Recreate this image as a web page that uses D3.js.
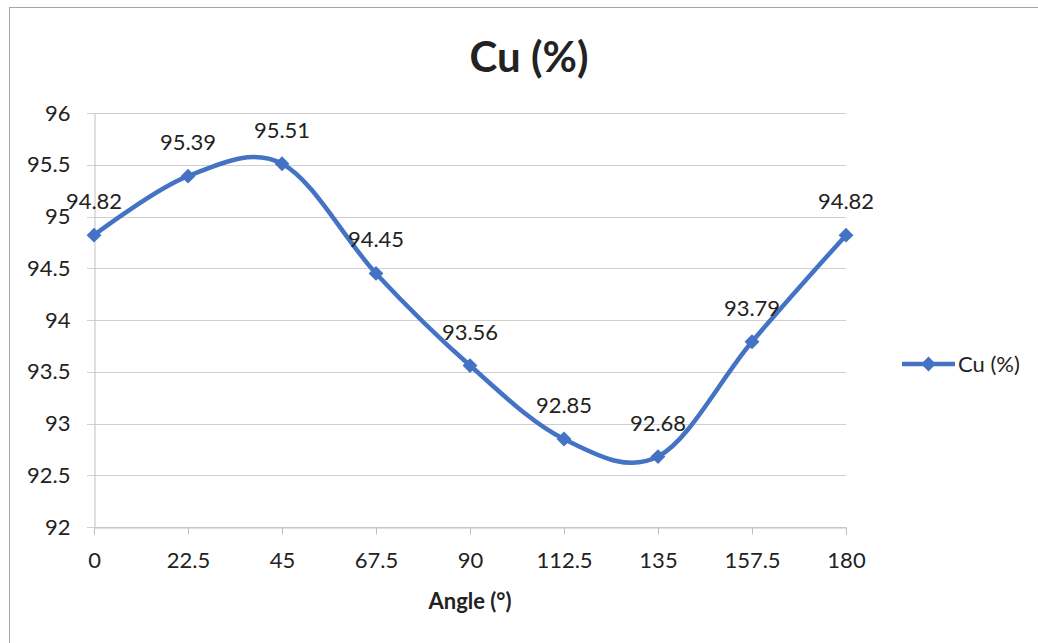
<!DOCTYPE html>
<html>
<head>
<meta charset="utf-8">
<script src="https://cdn.jsdelivr.net/npm/d3@7"></script>
<style>
  html, body { margin: 0; padding: 0; background: #fff; }
  svg { display: block; }
  text { font-family: Lato, "Open Sans", sans-serif; fill: #222; }
</style>
</head>
<body>
<svg id="chart" width="1038" height="643"></svg>
<script>
// Copper content measured at each angle
const angles = [0, 22.5, 45, 67.5, 90, 112.5, 135, 157.5, 180];
const cuValues = [94.82, 95.39, 95.51, 94.45, 93.56, 92.85, 92.68, 93.79, 94.82];
const yTicks = [92, 92.5, 93, 93.5, 94, 94.5, 95, 95.5, 96];
const seriesName = "Cu (%)";

const svg = d3.select("#chart");
const W = 1038, H = 643;
const plot = { left: 94, right: 846, top: 113, bottom: 527 };
const blue = "#4472C4";
const fontSize = "22px";

// outer frame of the chart area
svg.append("rect")
  .attr("x", 9.5).attr("y", 7.5)
  .attr("width", W + 10).attr("height", H + 10)
  .attr("fill", "none").attr("stroke", "#a6a6a6").attr("stroke-width", 1);

const x = d3.scaleLinear().domain([0, 180]).range([plot.left, plot.right]);
const y = d3.scaleLinear().domain([92, 96]).range([plot.bottom, plot.top]);

// horizontal gridlines
svg.append("g")
  .selectAll("line")
  .data(yTicks)
  .join("line")
  .attr("x1", plot.left - 7).attr("x2", plot.right)
  .attr("y1", d => Math.round(y(d)) + 0.5).attr("y2", d => Math.round(y(d)) + 0.5)
  .attr("stroke", "#d0d0d0").attr("stroke-width", 1);

// y axis
const yAxis = svg.append("g")
  .attr("transform", `translate(${plot.left + 0.5},0)`)
  .call(d3.axisLeft(y).tickValues(yTicks).tickSize(0).tickPadding(24)
    .tickFormat(d => String(d)));
yAxis.select(".domain").attr("stroke", "#bfbfbf");
yAxis.selectAll("text")
  .style("font-family", "Lato, 'Open Sans', sans-serif")
  .style("font-size", fontSize).attr("fill", "#222");

// x axis
const xAxis = svg.append("g")
  .attr("transform", `translate(0,${Math.round(plot.bottom) + 0.5})`)
  .call(d3.axisBottom(x).tickValues(angles).tickSize(7).tickPadding(18)
    .tickFormat(d => String(d)));
xAxis.select(".domain").attr("stroke", "#bfbfbf");
xAxis.selectAll(".tick line").attr("stroke", "#bfbfbf");
xAxis.selectAll("text")
  .style("font-family", "Lato, 'Open Sans', sans-serif")
  .style("font-size", fontSize).attr("fill", "#222");

// title and axis title
svg.append("text")
  .attr("x", 529).attr("y", 72)
  .attr("text-anchor", "middle")
  .style("font-size", "42px").style("font-weight", "bold")
  .text("Cu (%)");

svg.append("text")
  .attr("x", (plot.left + plot.right) / 2).attr("y", 609)
  .attr("text-anchor", "middle")
  .style("font-size", "22px").style("font-weight", "bold")
  .text("Angle (°)");

const points = angles.map((a, i) => ({ a, v: cuValues[i] }));

// smoothed series line
const line = d3.line()
  .x(d => x(d.a)).y(d => y(d.v))
  .curve(d3.curveCardinal.tension(0));

svg.append("path")
  .datum(points)
  .attr("d", line)
  .attr("fill", "none")
  .attr("stroke", blue)
  .attr("stroke-width", 4.5)
  .attr("stroke-linejoin", "round");

// diamond markers
const diamond = d3.symbol().type(d3.symbolDiamond2).size(140);
svg.append("g")
  .selectAll("path")
  .data(points)
  .join("path")
  .attr("transform", d => `translate(${x(d.a)},${y(d.v)})`)
  .attr("d", diamond)
  .attr("fill", blue);

// value labels above each marker
svg.append("g")
  .selectAll("text")
  .data(points)
  .join("text")
  .attr("x", d => x(d.a))
  .attr("y", d => y(d.v) - 26)
  .attr("text-anchor", "middle")
  .style("font-size", fontSize)
  .text(d => d.v.toFixed(2));

// legend
const lg = svg.append("g").attr("transform", "translate(902,364)");
lg.append("line").attr("x1", 0).attr("x2", 53).attr("y1", 0).attr("y2", 0)
  .attr("stroke", blue).attr("stroke-width", 4.5);
lg.append("path").attr("transform", "translate(26.5,0)").attr("d", diamond).attr("fill", blue);
lg.append("text").attr("x", 56).attr("y", 8)
  .style("font-size", fontSize).text(seriesName);
</script>
</body>
</html>
